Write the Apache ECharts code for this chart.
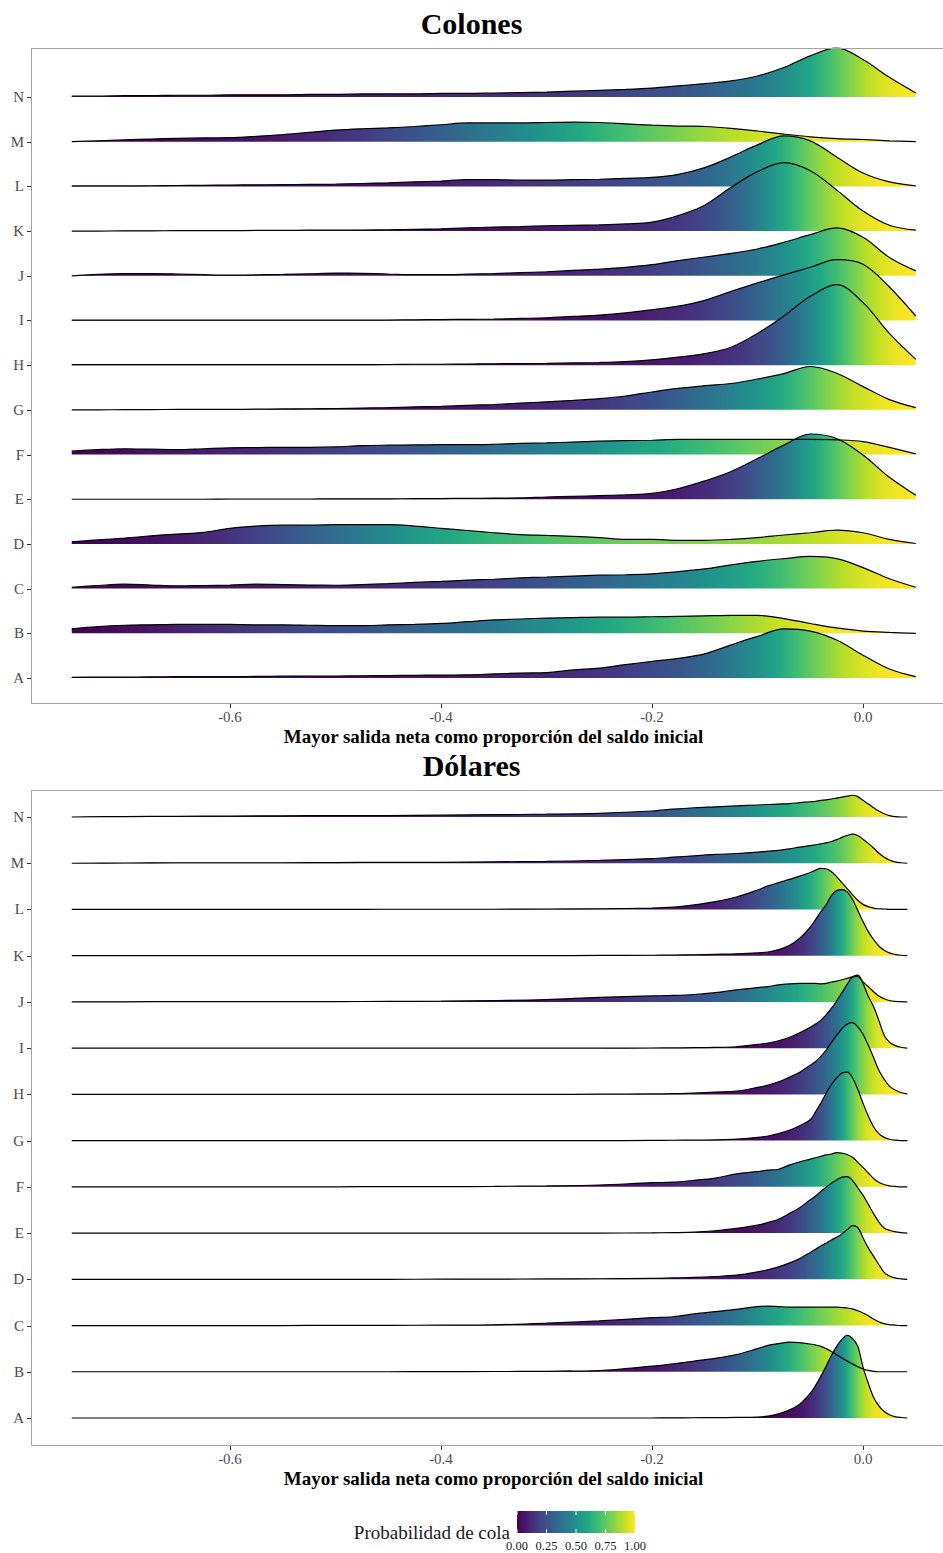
<!DOCTYPE html>
<html>
<head>
<meta charset="utf-8">
<script src="https://cdn.jsdelivr.net/npm/echarts@6/dist/echarts.min.js"></script>
<style>
  html, body { margin: 0; padding: 0; background: #fff; overflow: hidden; }
  #chart { width: 960px; height: 1553px; }
</style>
</head>
<body>
<div id="chart"></div>
<script>
// Category labels (bottom to top: A ... N)
const categories = ['A','B','C','D','E','F','G','H','I','J','K','L','M','N'];

// Tick labels of the x axes and of the colour bar
const xTicks = [-0.6, -0.4, -0.2, 0.0];
const legendTicks = [0, 0.25, 0.5, 0.75, 1];

// Evaluation grid for the "Colones" densities
const xColones = [-0.75,-0.725,-0.7,-0.675,-0.65,-0.625,-0.6,-0.575,-0.55,-0.525,-0.5,-0.475,-0.45,-0.425,-0.4,-0.375,-0.35,-0.325,-0.3,-0.275,-0.25,-0.225,-0.2,-0.175,-0.15,-0.125,-0.1,-0.075,-0.05,-0.025,0,0.025,0.05];

// Ridge heights (in row units) for "Colones"
const colA = [0.015,0.02,0.02,0.025,0.03,0.03,0.03,0.035,0.04,0.045,0.045,0.05,0.055,0.06,0.065,0.07,0.09,0.11,0.12,0.18,0.22,0.3,0.37,0.44,0.54,0.74,0.93,1.1,1.05,0.85,0.51,0.2,0.03];
const colB = [0.1,0.15,0.18,0.19,0.2,0.2,0.2,0.19,0.19,0.18,0.17,0.17,0.19,0.2,0.22,0.26,0.3,0.32,0.34,0.35,0.36,0.36,0.37,0.38,0.39,0.4,0.4,0.33,0.22,0.12,0.05,0.02,0.0];
const colC = [0.03,0.07,0.1,0.08,0.06,0.07,0.08,0.1,0.09,0.08,0.075,0.09,0.11,0.14,0.16,0.19,0.21,0.24,0.26,0.28,0.3,0.31,0.33,0.38,0.44,0.53,0.61,0.67,0.72,0.67,0.47,0.22,0.03];
const colD = [0.045,0.09,0.13,0.18,0.22,0.26,0.35,0.4,0.42,0.42,0.43,0.43,0.43,0.4,0.35,0.3,0.25,0.21,0.19,0.17,0.14,0.1,0.1,0.08,0.08,0.1,0.14,0.2,0.25,0.31,0.25,0.1,0.01];
const colE = [0,0,0,0,0,0,0.005,0.005,0.005,0.005,0.01,0.01,0.01,0.012,0.015,0.02,0.025,0.03,0.05,0.065,0.08,0.1,0.13,0.24,0.41,0.62,0.91,1.21,1.46,1.36,0.99,0.49,0.09];
const colF = [0.075,0.11,0.13,0.12,0.11,0.13,0.15,0.155,0.16,0.16,0.17,0.2,0.21,0.215,0.22,0.22,0.23,0.25,0.26,0.28,0.3,0.31,0.32,0.34,0.34,0.34,0.34,0.34,0.34,0.33,0.29,0.16,0.015];
const colG = [0,0,0.005,0.005,0.01,0.01,0.01,0.015,0.02,0.025,0.03,0.04,0.05,0.065,0.08,0.1,0.12,0.15,0.18,0.21,0.25,0.31,0.4,0.48,0.54,0.59,0.69,0.81,0.97,0.82,0.52,0.23,0.05];
const colH = [0.01,0.01,0.01,0.01,0.01,0.01,0.01,0.01,0.01,0.01,0.01,0.01,0.015,0.02,0.02,0.025,0.03,0.035,0.04,0.05,0.06,0.08,0.12,0.18,0.26,0.4,0.71,1.1,1.54,1.8,1.4,0.71,0.13];
const colI = [0.01,0.01,0.01,0.01,0.01,0.01,0.01,0.01,0.01,0.01,0.01,0.01,0.01,0.015,0.02,0.025,0.03,0.045,0.06,0.09,0.12,0.17,0.24,0.32,0.45,0.65,0.84,1.02,1.19,1.36,1.26,0.75,0.1];
const colJ = [0,0.03,0.05,0.05,0.04,0.025,0.015,0.02,0.03,0.045,0.06,0.055,0.04,0.025,0.025,0.035,0.05,0.07,0.09,0.12,0.15,0.19,0.25,0.34,0.42,0.5,0.6,0.75,0.92,1.07,0.86,0.41,0.11];
const colK = [0,0,0.005,0.005,0.01,0.01,0.01,0.015,0.015,0.02,0.02,0.025,0.03,0.04,0.05,0.07,0.09,0.1,0.12,0.13,0.14,0.16,0.2,0.35,0.58,0.98,1.33,1.53,1.35,0.92,0.45,0.13,0.02];
const colL = [0.01,0.01,0.01,0.015,0.02,0.025,0.03,0.035,0.04,0.045,0.05,0.065,0.08,0.1,0.12,0.15,0.15,0.14,0.14,0.15,0.16,0.18,0.2,0.27,0.42,0.66,0.93,1.13,1.02,0.66,0.3,0.1,0.01];
const colM = [0,0.02,0.04,0.06,0.075,0.085,0.09,0.12,0.16,0.21,0.26,0.29,0.31,0.34,0.38,0.42,0.42,0.42,0.43,0.44,0.43,0.4,0.37,0.35,0.34,0.3,0.24,0.17,0.11,0.07,0.05,0.02,0.0];
const colN = [0.02,0.02,0.03,0.03,0.04,0.04,0.05,0.05,0.05,0.06,0.06,0.07,0.07,0.07,0.08,0.08,0.09,0.1,0.11,0.13,0.15,0.17,0.2,0.25,0.3,0.36,0.47,0.66,0.92,1.1,0.84,0.44,0.09];

// Evaluation grid for the "Dólares" densities
const xDolares = [-0.75,-0.7,-0.65,-0.6,-0.55,-0.5,-0.45,-0.4,-0.35,-0.3,-0.25,-0.2,-0.18,-0.16,-0.14,-0.12,-0.1,-0.09,-0.08,-0.07,-0.06,-0.05,-0.045,-0.04,-0.035,-0.03,-0.025,-0.02,-0.015,-0.01,-0.005,0,0.005,0.01,0.015,0.02,0.025,0.03,0.036,0.042];

// Ridge heights (in row units) for "Dólares"
const dolA = [0,0,0,0,0,0,0,0,0,0,0,0,0.003,0.005,0.008,0.012,0.02,0.04,0.09,0.17,0.3,0.53,0.7,0.9,1.12,1.35,1.55,1.7,1.79,1.72,1.55,1.1,0.75,0.45,0.26,0.14,0.07,0.03,0.01,0];
const dolB = [0,0,0,0,0,0,0,0.003,0.005,0.01,0.025,0.12,0.17,0.23,0.29,0.37,0.5,0.57,0.61,0.64,0.63,0.6,0.58,0.55,0.5,0.44,0.37,0.3,0.23,0.17,0.11,0.06,0.03,0.01,0,0,0,0,0,0];
const dolC = [0,0,0,0,0,0.003,0.005,0.008,0.015,0.05,0.1,0.17,0.19,0.25,0.3,0.35,0.41,0.42,0.41,0.4,0.4,0.4,0.4,0.4,0.4,0.4,0.4,0.39,0.38,0.36,0.32,0.27,0.21,0.14,0.08,0.04,0.02,0.01,0,0];
const dolD = [0,0,0,0,0,0,0,0.003,0.005,0.008,0.012,0.02,0.03,0.04,0.06,0.09,0.16,0.21,0.27,0.35,0.45,0.58,0.65,0.72,0.78,0.85,0.91,0.98,1.07,1.16,1.12,0.9,0.68,0.5,0.32,0.15,0.07,0.03,0.01,0];
const dolE = [0,0,0,0,0,0,0,0,0,0,0,0.005,0.01,0.02,0.05,0.1,0.17,0.23,0.3,0.42,0.55,0.72,0.8,0.9,0.99,1.08,1.15,1.21,1.22,1.14,0.98,0.82,0.62,0.42,0.24,0.11,0.06,0.03,0.01,0];
const dolF = [0,0,0,0,0,0,0.005,0.005,0.01,0.02,0.04,0.09,0.1,0.14,0.19,0.28,0.33,0.36,0.38,0.47,0.54,0.6,0.63,0.66,0.69,0.71,0.74,0.73,0.7,0.64,0.53,0.42,0.3,0.18,0.1,0.05,0.02,0.01,0,0];
const dolG = [0,0,0,0,0,0,0,0,0,0,0,0.005,0.008,0.01,0.015,0.03,0.07,0.1,0.15,0.22,0.32,0.45,0.62,0.81,1.02,1.21,1.36,1.46,1.48,1.36,1.11,0.81,0.53,0.3,0.15,0.07,0.03,0.01,0,0];
const dolH = [0,0,0,0,0,0,0,0,0,0,0.005,0.01,0.015,0.03,0.05,0.07,0.15,0.2,0.27,0.37,0.48,0.63,0.71,0.82,0.96,1.12,1.28,1.42,1.52,1.55,1.46,1.3,1.06,0.8,0.52,0.33,0.18,0.1,0.04,0.01];
const dolI = [0,0,0,0,0,0,0,0,0,0,0,0.003,0.005,0.01,0.015,0.03,0.08,0.11,0.16,0.23,0.33,0.45,0.52,0.6,0.72,0.86,1.02,1.2,1.38,1.54,1.58,1.4,1.12,0.9,0.6,0.28,0.13,0.06,0.02,0];
const dolJ = [0,0.003,0.005,0.005,0.006,0.008,0.01,0.015,0.03,0.05,0.1,0.13,0.14,0.16,0.2,0.26,0.31,0.33,0.37,0.39,0.4,0.4,0.4,0.39,0.4,0.43,0.45,0.48,0.51,0.54,0.55,0.43,0.33,0.22,0.13,0.07,0.03,0.01,0.005,0];
const dolK = [0,0,0,0,0,0,0,0,0,0,0.005,0.01,0.015,0.02,0.03,0.04,0.06,0.08,0.13,0.22,0.38,0.62,0.78,0.95,1.1,1.3,1.41,1.43,1.38,1.22,0.98,0.74,0.52,0.35,0.21,0.12,0.06,0.03,0.01,0];
const dolL = [0,0,0,0,0,0,0.005,0.005,0.005,0.01,0.015,0.03,0.05,0.1,0.17,0.27,0.42,0.51,0.58,0.65,0.72,0.8,0.85,0.89,0.88,0.82,0.71,0.58,0.45,0.32,0.2,0.11,0.06,0.03,0.015,0.01,0,0,0,0];
const dolM = [0,0.005,0.01,0.01,0.01,0.015,0.02,0.02,0.03,0.04,0.06,0.1,0.13,0.16,0.19,0.21,0.24,0.26,0.28,0.31,0.35,0.38,0.4,0.42,0.44,0.47,0.51,0.56,0.6,0.63,0.6,0.52,0.43,0.33,0.22,0.13,0.07,0.03,0.01,0];
const dolN = [0,0.01,0.015,0.02,0.025,0.03,0.03,0.04,0.05,0.06,0.08,0.13,0.17,0.2,0.22,0.24,0.26,0.27,0.28,0.29,0.31,0.33,0.34,0.36,0.37,0.39,0.41,0.43,0.45,0.47,0.44,0.36,0.28,0.2,0.13,0.07,0.03,0.01,0,0];

const colones = [colA,colB,colC,colD,colE,colF,colG,colH,colI,colJ,colK,colL,colM,colN];
const dolares = [dolA,dolB,dolC,dolD,dolE,dolF,dolG,dolH,dolI,dolJ,dolK,dolL,dolM,dolN];

const SERIF = "'Liberation Serif', 'DejaVu Serif', serif";
const VIRIDIS = ['#440154','#482475','#414487','#355f8d','#2a788e','#21918c','#22a884','#44bf70','#7ad151','#bddf26','#fde725'];

function hexToRgb(h) {
  return [parseInt(h.slice(1,3),16), parseInt(h.slice(3,5),16), parseInt(h.slice(5,7),16)];
}
const VIR_RGB = VIRIDIS.map(hexToRgb);
function viridis(t) {
  t = Math.max(0, Math.min(1, t));
  const p = t * (VIR_RGB.length - 1);
  const i = Math.min(VIR_RGB.length - 2, Math.floor(p));
  const f = p - i;
  const a = VIR_RGB[i], b = VIR_RGB[i + 1];
  const c = a.map((v, k) => Math.round(v + (b[k] - v) * f));
  return '#' + c.map(v => v.toString(16).padStart(2, '0')).join('');
}

// Horizontal gradient coloured by the cumulative probability of each ridge
function tailGradient(xs, hs) {
  const n = xs.length;
  const cum = [0];
  for (let i = 1; i < n; i++) {
    cum.push(cum[i - 1] + (hs[i] + hs[i - 1]) / 2 * (xs[i] - xs[i - 1]));
  }
  const total = cum[n - 1];
  const x0 = xs[0], span = xs[n - 1] - xs[0];
  const stops = [];
  const SUB = 6;
  let last = -1;
  for (let i = 0; i < n - 1; i++) {
    const dx = xs[i + 1] - xs[i];
    for (let s = 0; s < SUB; s++) {
      const t = s / SUB;
      const area = cum[i] + (hs[i] * t + (hs[i + 1] - hs[i]) * t * t / 2) * dx;
      const off = Math.round(((xs[i] + t * dx - x0) / span) * 10000) / 10000;
      if (off <= last) continue;
      last = off;
      stops.push({ offset: off, color: viridis(area / total) });
    }
  }
  stops.push({ offset: 1, color: viridis(1) });
  return new echarts.graphic.LinearGradient(0, 0, 1, 0, stops);
}

function ridgeSeries(xs, ridges, gridIdx) {
  const out = [];
  // top row first so lower rows are painted over it
  for (let k = ridges.length - 1; k >= 0; k--) {
    const base = k + 1;
    const hs = ridges[k];
    out.push({
      type: 'line',
      name: categories[k],
      xAxisIndex: gridIdx,
      yAxisIndex: gridIdx,
      data: xs.map((x, i) => [x, base + hs[i]]),
      smooth: 0.35,
      symbol: 'none',
      showSymbol: false,
      silent: true,
      animation: false,
      lineStyle: { color: '#000', width: 1.2 },
      areaStyle: { origin: base, color: tailGradient(xs, hs), opacity: 1 }
    });
  }
  return out;
}

const PX_PER_UNIT = 1055;
const X_MIN = -0.6 - (230 - 31) / PX_PER_UNIT;
const X_MAX = X_MIN + 925 / PX_PER_UNIT;
const rowValues = categories.map((c, i) => i + 1);

function makeXAxis(gridIndex) {
  return {
    gridIndex, type: 'value', min: X_MIN, max: X_MAX, position: 'bottom',
    axisLine: { show: false, onZero: false },
    splitLine: { show: false },
    axisTick: { show: true, customValues: xTicks, length: 4, lineStyle: { color: '#333', width: 1 } },
    axisLabel: { customValues: xTicks, formatter: v => v.toFixed(1), fontFamily: SERIF, fontSize: 15, color: '#4d4d4d', margin: 5 },
    name: 'Mayor salida neta como proporción del saldo inicial',
    nameLocation: 'middle', nameGap: 23,
    nameTextStyle: { fontFamily: SERIF, fontWeight: 'bold', fontSize: 19, color: '#000' }
  };
}
function makeYAxis(gridIndex, min, max) {
  return {
    gridIndex, type: 'value', min, max, position: 'left',
    axisLine: { show: false, onZero: false },
    splitLine: { show: false },
    axisTick: { show: false },
    axisLabel: { customValues: rowValues, formatter: v => categories[Math.round(v) - 1], fontFamily: SERIF, fontSize: 15, color: '#4d4d4d', margin: 7 }
  };
}

// Drawing surface is a little wider than the window: the panels run past the right edge
const chart = echarts.init(document.getElementById('chart'), null, { renderer: 'svg', width: 960, height: 1553 });

// Panel frames: left, top and bottom edges (the right edge lies outside the page)
function panelFrame(top, height) {
  return {
    type: 'polyline', silent: true, z: 100,
    shape: { points: [[960, top + 0.5], [31.5, top + 0.5], [31.5, top + height - 0.5], [960, top + height - 0.5]] },
    style: { stroke: '#a3a3a3', lineWidth: 1, fill: null }
  };
}

const barX = 517, barW = 118, barY = 1511, barH = 22;
const graphics = [
  panelFrame(48, 656),
  panelFrame(790, 656),
  { type: 'text', x: 471.5, y: 23, style: { text: 'Colones', font: 'bold 30px ' + SERIF, fill: '#000', textAlign: 'center', textVerticalAlign: 'middle' } },
  { type: 'text', x: 471.5, y: 765, style: { text: 'Dólares', font: 'bold 30px ' + SERIF, fill: '#000', textAlign: 'center', textVerticalAlign: 'middle' } },
  { type: 'rect', shape: { x: barX, y: barY, width: barW, height: barH },
    style: { fill: new echarts.graphic.LinearGradient(0, 0, 1, 0, VIRIDIS.map((c, i) => ({ offset: i / (VIRIDIS.length - 1), color: c }))) } },
  { type: 'text', x: 510, y: 1532, style: { text: 'Probabilidad de cola', font: '19px ' + SERIF, fill: '#1a1a1a', textAlign: 'right', textVerticalAlign: 'middle' } }
];
legendTicks.forEach(t => {
  const x = barX + t * barW;
  graphics.push({ type: 'line', shape: { x1: x, y1: barY, x2: x, y2: barY + 4 }, style: { stroke: '#fff', lineWidth: 1 } });
  graphics.push({ type: 'line', shape: { x1: x, y1: barY + barH - 4, x2: x, y2: barY + barH }, style: { stroke: '#fff', lineWidth: 1 } });
  graphics.push({ type: 'text', x, y: 1546, style: { text: t.toFixed(2), font: '12.5px ' + SERIF, fill: '#1a1a1a', textAlign: 'center', textVerticalAlign: 'middle' } });
});

const option = {
  animation: false,
  backgroundColor: '#fff',
  grid: [
    { left: 31, top: 48, width: 925, height: 656, show: false },
    { left: 31, top: 790, width: 925, height: 656, show: false }
  ],
  xAxis: [makeXAxis(0), makeXAxis(1)],
  yAxis: [makeYAxis(0, 0.418, 15.097), makeYAxis(1, 0.394, 14.584)],
  graphic: graphics,
  series: [].concat(ridgeSeries(xColones, colones, 0), ridgeSeries(xDolares, dolares, 1))
};
chart.setOption(option);

// Row tick marks on the left edge of each panel, placed through the axis scales
[0, 1].forEach(g => {
  rowValues.forEach(v => {
    const p = chart.convertToPixel({ gridIndex: g }, [X_MIN, v]);
    const y = Math.round(p[1]) + 0.5;
    graphics.push({ type: 'line', silent: true, shape: { x1: p[0] - 4, y1: y, x2: p[0], y2: y }, style: { stroke: '#333', lineWidth: 1 } });
  });
});
chart.setOption({ graphic: graphics });
</script>
</body>
</html>
